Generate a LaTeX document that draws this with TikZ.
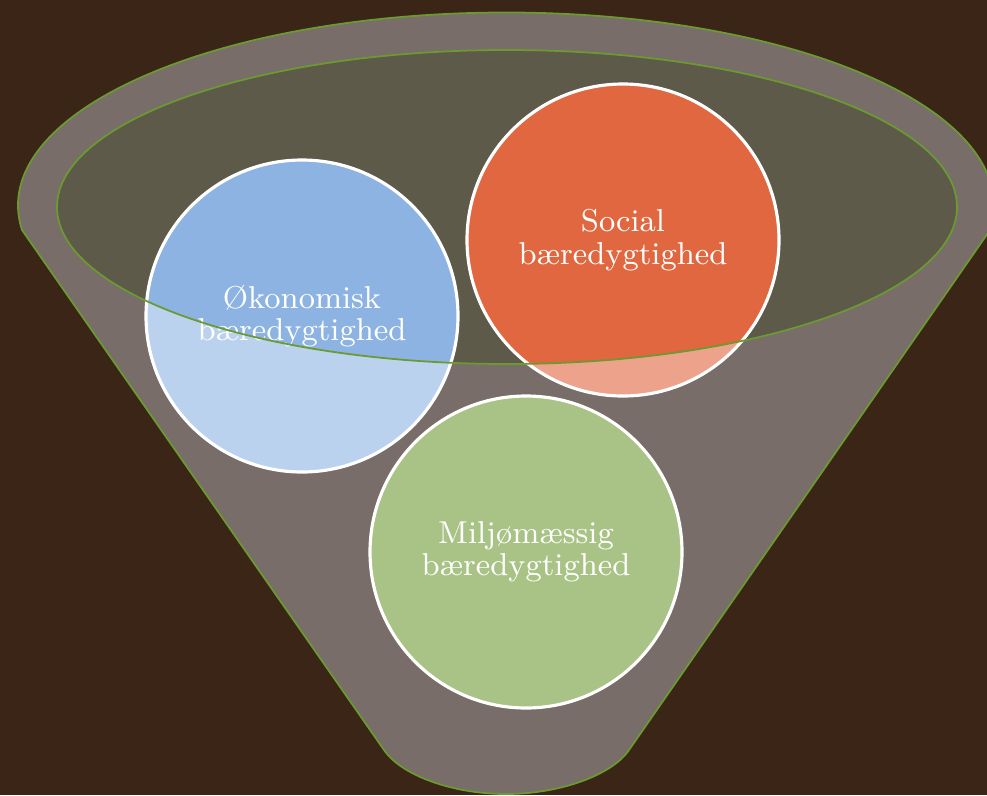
\documentclass[tikz,border=0pt]{standalone}
\usepackage{fontspec}
\usetikzlibrary{shapes}
\definecolor{wood}{HTML}{3A2517}
\definecolor{funnelgrey}{HTML}{786D68}
\definecolor{innergrey}{HTML}{5E5A4A}
\definecolor{rimgreen}{HTML}{6A9A30}
\definecolor{okodark}{HTML}{8DB3E2}
\definecolor{okolight}{HTML}{BBD2EE}
\definecolor{socdark}{HTML}{E0673F}
\definecolor{soclight}{HTML}{EDA28B}
\definecolor{miljgreen}{HTML}{A8C385}
\tikzstyle{funnel} = [fill=funnelgrey, draw=rimgreen, line width=0.5pt]
\tikzstyle{rim} = [draw=rimgreen, line width=0.5pt]
\tikzstyle{pillar} = [circle, minimum size=31.2mm, draw=white, line width=0.9pt, text=white, align=center, font=\fontsize{9}{9.2}\selectfont]

\begin{document}
\begin{tikzpicture}[x=0.1mm, y=0.1mm]

\useasboundingbox (0,0) rectangle (987,795);
\clip (0,0) rectangle (987,795);
\fill [wood] (0,0) rectangle (987,795);
\path [funnel] (22,565) arc [start angle=187.3, end angle=-7.3, x radius=488, y radius=193] -- (629,45) .. controls (612,20) and (560,1) .. (506,1) .. controls (452,1) and (401,20) .. (384,45) -- cycle;
\fill [innergrey] (507,588) ellipse [x radius=450, y radius=157];

\coordinate (c0) at (302,479);
\coordinate (c1) at (623,555);
\coordinate (c2) at (526,243);
\fill [okolight] (c0) circle [radius=156];
\fill [soclight] (c1) circle [radius=156];
\fill [miljgreen] (c2) circle [radius=156];
\begin{scope}
\clip (507,588) ellipse [x radius=450, y radius=157];
\fill [okodark] (c0) circle [radius=156];
\fill [socdark] (c1) circle [radius=156];
\end{scope}

\node (0) [pillar] at (c0) {Økonomisk\\bæredygtighed};
\node (1) [pillar] at (c1) {Social\\bæredygtighed};
\node (2) [pillar] at (c2) {Miljømæssig\\bæredygtighed};

\draw [rim] (507,588) ellipse [x radius=450, y radius=157];

\end{tikzpicture}
\end{document}
